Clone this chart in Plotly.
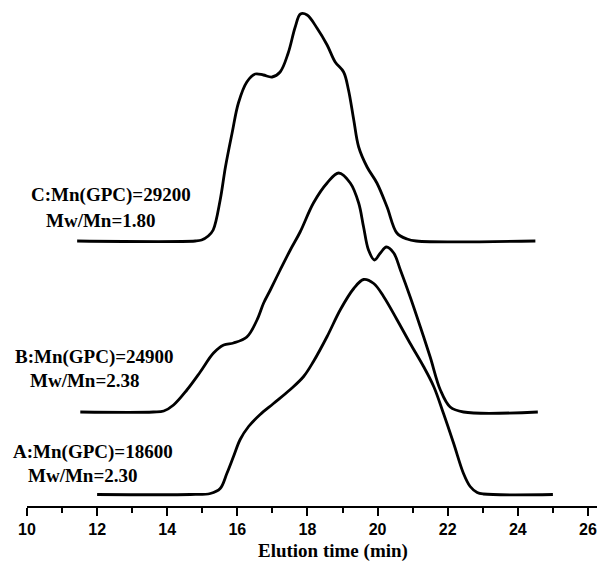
import plotly.graph_objects as go

# Elution time (min) and detector signal (arbitrary units above each baseline)
time_A = [12.00, 14.66, 15.23, 15.51, 15.70, 15.89, 16.08, 16.32, 16.65, 17.03, 17.51, 17.89, 18.17,
          18.56, 18.94, 19.32, 19.60, 19.89, 20.17, 20.55, 20.93, 21.31, 21.60, 21.88, 22.17, 22.45,
          22.64, 22.84, 23.02, 25.00]
signal_A = [0, 0, 1, 6, 21, 38, 55, 68, 80, 91, 105, 118, 133,
            158, 185, 206, 215, 211, 198, 175, 151, 128, 108, 81, 51, 21,
            8, 2, 0.5, 0]

time_B = [11.52, 13.60, 13.90, 14.18, 14.56, 14.94, 15.32, 15.61, 15.89, 16.27, 16.56, 16.75, 16.94,
          17.22, 17.51, 17.79, 18.17, 18.56, 18.89, 19.22, 19.46, 19.60, 19.74, 19.91, 20.08, 20.25,
          20.46, 20.65, 20.93, 21.22, 21.50, 21.79, 22.07, 22.45, 24.57]
signal_B = [0, 0, 1, 7, 22, 40, 59, 67, 69, 75, 92, 109, 122,
            142, 162, 180, 209, 229, 239, 229, 209, 185, 162, 152, 159, 165,
            159, 142, 115, 85, 55, 22, 5, 0, 0]

time_C = [11.43, 14.80, 14.98, 15.17, 15.31, 15.51, 15.66, 15.85, 16.03, 16.27, 16.51, 16.74, 16.99,
          17.22, 17.45, 17.65, 17.80, 17.99, 18.27, 18.56, 18.79, 19.03, 19.17, 19.32, 19.46, 19.70,
          19.98, 20.27, 20.55, 20.84, 21.10, 24.50]
signal_C = [0, 0, 1, 5, 11, 41, 74, 108, 138, 159, 167, 166, 164,
            169, 188, 214, 227, 226, 213, 196, 179, 169, 151, 121, 94, 74,
            58, 34, 8, 2, 0, 0]

offsets = [11.5, 94, 265]  # vertical stacking of the three traces
label_line1 = ["A:Mn(GPC)=18600", "B:Mn(GPC)=24900", "C:Mn(GPC)=29200"]
label_line2 = ["Mw/Mn=2.30", "Mw/Mn=2.38", "Mw/Mn=1.80"]

x_ticks = list(range(10, 27, 2))

fig = go.Figure()
for t, s, off in zip([time_A, time_B, time_C], [signal_A, signal_B, signal_C], offsets):
    fig.add_trace(go.Scatter(
        x=t, y=[v + off for v in s], mode="lines",
        line=dict(color="black", width=2.8, shape="spline", smoothing=1.0),
        hoverinfo="skip", showlegend=False))

W, H = 597, 562
ml, mr, mt, mb = 27, 0, 0, 56
pw, ph = W - ml - mr, H - mt - mb


def px(xp):
    return (xp - ml) / pw


def py(yp):
    return (H - mb - yp) / ph


# label positions in pixels (left x, center y)
pos1 = [(13, 451.5), (15, 356.5), (31, 195)]
pos2 = [(28, 475.5), (30, 380.5), (46, 220)]
serif = dict(family="Liberation Serif, Times New Roman, serif", size=19, color="black", weight="bold")
for i in range(3):
    for txt, (xx, yy) in ((label_line1[i], pos1[i]), (label_line2[i], pos2[i])):
        fig.add_annotation(text=txt, x=px(xx - 2), y=py(yy), xref="paper", yref="paper",
                           xanchor="left", yanchor="middle", showarrow=False, font=serif)

fig.add_annotation(text="Elution time (min)", x=px(332.5), y=py(551), xref="paper", yref="paper",
                   xanchor="center", yanchor="middle", showarrow=False, font=serif)

fig.update_layout(
    width=W, height=H, margin=dict(l=ml, r=mr, t=mt, b=mb),
    paper_bgcolor="white", plot_bgcolor="white",
    xaxis=dict(range=[10, 10 + pw / 35.06], tickvals=x_ticks, ticktext=["<b>%d</b>" % v for v in x_ticks],
               showgrid=False, zeroline=False, showline=True, linecolor="black", linewidth=2,
               ticks="outside", ticklen=8, tickwidth=2, tickcolor="black",
               tickfont=dict(family="Liberation Sans, Arial, sans-serif", size=16, color="black"),
               minor=dict(dtick=1, tick0=10, ticks="outside", ticklen=5, tickwidth=2, tickcolor="black", showgrid=False)),
    yaxis=dict(range=[0, ph], visible=False, showgrid=False, zeroline=False),
)

fig.write_html("out.html")
